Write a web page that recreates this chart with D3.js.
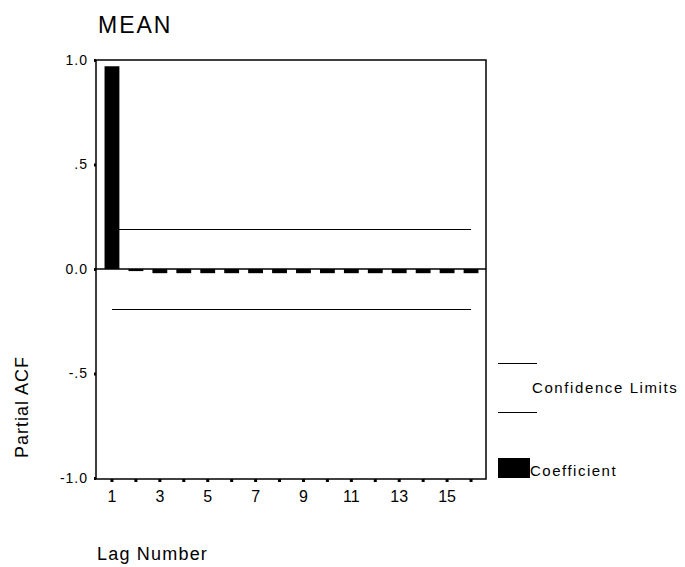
<!DOCTYPE html>
<html>
<head>
<meta charset="utf-8">
<script src="https://cdn.jsdelivr.net/npm/d3@7"></script>
<style>
  body { margin: 0; background: #fff; }
  svg text { font-family: "Liberation Sans", Arial, sans-serif; fill: #000; }
</style>
</head>
<body>
<svg id="chart" width="685" height="567"></svg>
<script>
// partial autocorrelation of MEAN, lags 1..16
var lags = [1, 2, 3, 4, 5, 6, 7, 8, 9, 10, 11, 12, 13, 14, 15, 16];
var pacf = [0.97, -0.01, -0.02, -0.02, -0.02, -0.02, -0.02, -0.02, -0.02, -0.02, -0.02, -0.02, -0.02, -0.02, -0.02, -0.02];
var confLimits = [0.19, -0.19];
var yTicks = [1, 0.5, 0, -0.5, -1];
var yTickLabels = ["1.0", ".5", "0.0", "-.5", "-1.0"];
var xLabelLags = [1, 3, 5, 7, 9, 11, 13, 15];

var svg = d3.select("#chart");
var plotLeft = 96, plotRight = 486, plotTop = 60, plotBottom = 479;

var x = d3.scaleBand()
    .domain(lags)
    .range([100, 483])
    .paddingInner(0.38)
    .paddingOuter(0.19);

var y = d3.scaleLinear()
    .domain([-1, 1])
    .range([478, plotTop]);

function cx(d) { return x(d) + x.bandwidth() / 2; }

// title
svg.append("text")
    .attr("x", 98)
    .attr("y", 33)
    .attr("font-size", 23)
    .attr("letter-spacing", 2)
    .text("MEAN");

// bars
svg.append("g")
  .selectAll("rect")
  .data(lags)
  .enter().append("rect")
    .attr("x", function(d) { return x(d); })
    .attr("width", x.bandwidth())
    .attr("y", function(d, i) { return y(Math.max(0, pacf[i])); })
    .attr("height", function(d, i) { return Math.max(1, Math.abs(y(pacf[i]) - y(0))); })
    .attr("fill", "#000");

// zero line
svg.append("line")
    .attr("x1", plotLeft).attr("x2", plotRight)
    .attr("y1", y(0)).attr("y2", y(0))
    .attr("stroke", "#000")
    .attr("stroke-width", 1.5);

// confidence limits
svg.append("g")
  .selectAll("line")
  .data(confLimits)
  .enter().append("line")
    .attr("x1", cx(lags[0]))
    .attr("x2", cx(lags[lags.length - 1]))
    .attr("y1", function(d) { return Math.round(y(d)) + 0.5; })
    .attr("y2", function(d) { return Math.round(y(d)) + 0.5; })
    .attr("stroke", "#000")
    .attr("stroke-width", 1);

// frame
svg.append("rect")
    .attr("x", plotLeft).attr("y", plotTop)
    .attr("width", plotRight - plotLeft).attr("height", plotBottom - plotTop)
    .attr("fill", "none")
    .attr("stroke", "#000")
    .attr("stroke-width", 1.5);

// axes
var yAxis = svg.append("g")
    .attr("transform", "translate(" + plotLeft + ",0)")
    .call(d3.axisLeft(y)
        .tickValues(yTicks)
        .tickSize(2)
        .tickPadding(6)
        .tickFormat(function(d, i) { return yTickLabels[i]; }));
yAxis.select(".domain").remove();
yAxis.selectAll(".tick line").attr("stroke-width", 3);
yAxis.selectAll(".tick text")
    .attr("font-size", 14)
    .attr("font-family", "Liberation Sans, Arial, sans-serif")
    .attr("letter-spacing", 1);

var xAxis = svg.append("g")
    .attr("transform", "translate(0," + plotBottom + ")")
    .call(d3.axisBottom(x)
        .tickValues(lags)
        .tickSize(3)
        .tickPadding(9)
        .tickFormat(function(d) { return xLabelLags.indexOf(d) >= 0 ? d : ""; }));
xAxis.select(".domain").remove();
xAxis.selectAll(".tick line").attr("stroke-width", 3);
xAxis.selectAll(".tick text")
    .attr("font-size", 16)
    .attr("font-family", "Liberation Sans Narrow, Liberation Sans, Arial, sans-serif");

// axis titles
svg.append("text")
    .attr("transform", "translate(28,407) rotate(-90)")
    .attr("text-anchor", "middle")
    .attr("font-size", 18)
    .attr("letter-spacing", 1)
    .text("Partial ACF");

svg.append("text")
    .attr("x", 97)
    .attr("y", 560)
    .attr("font-size", 18)
    .attr("letter-spacing", 1.2)
    .text("Lag Number");

// legend
var legend = svg.append("g");
legend.selectAll("line")
  .data(confLimits)
  .enter().append("line")
    .attr("x1", 498).attr("x2", 537)
    .attr("y1", function(d, i) { return i == 0 ? 363.5 : 412.5; })
    .attr("y2", function(d, i) { return i == 0 ? 363.5 : 412.5; })
    .attr("stroke", "#000")
    .attr("stroke-width", 1);
legend.append("text")
    .attr("x", 532).attr("y", 393)
    .attr("font-size", 15)
    .attr("letter-spacing", 1.6)
    .text("Confidence Limits");
legend.append("rect")
    .attr("x", 498).attr("y", 458)
    .attr("width", 32).attr("height", 20)
    .attr("fill", "#000");
legend.append("text")
    .attr("x", 530).attr("y", 476)
    .attr("font-size", 15)
    .attr("letter-spacing", 1.5)
    .text("Coefficient");
</script>
</body>
</html>
